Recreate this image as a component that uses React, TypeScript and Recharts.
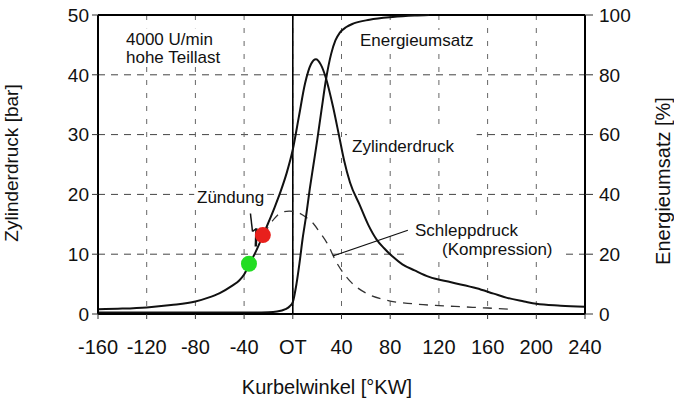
import React from 'react';
import {
  LineChart,
  Line,
  XAxis,
  YAxis,
  CartesianGrid,
  ReferenceLine,
  ReferenceDot,
  ReferenceArea,
} from 'recharts';

// ---- data ----
const xTicks = [-160, -120, -80, -40, 0, 40, 80, 120, 160, 200, 240];
const yTicksLeft = [0, 10, 20, 30, 40, 50];
const yTicksRight = [0, 20, 40, 60, 80, 100];

const druckWinkel = [-160, -140, -120, -100, -80, -70, -60, -50, -44, -40, -36, -30, -25, -20, -15, -10, -5, 0, 5, 10, 15, 19, 23, 27, 33, 38, 42, 47, 55, 62, 69, 75, 82, 90, 100, 112, 130, 151, 165, 176, 190, 200, 220, 240];
const druckBar = [0.8, 0.9, 1.1, 1.5, 2.1, 2.7, 3.5, 4.7, 5.6, 6.6, 8.2, 10.6, 12.9, 15.3, 17.8, 20.5, 23.6, 27.5, 33, 38.5, 41.8, 42.6, 41.7, 39.6, 34.7, 29.8, 25.8, 22, 18.2, 14.9, 12.4, 11, 9.6, 8.3, 7.3, 6.2, 5.3, 4.3, 3.4, 2.7, 2.1, 1.7, 1.4, 1.2];

const schleppWinkel = [-24, -20, -15, -10, -3, 5, 12, 17, 22, 28, 36, 47, 60, 77, 99, 120, 140, 160, 178];
const schleppBar = [13.2, 14.6, 16.0, 16.9, 17.2, 16.9, 16.0, 15.1, 13.7, 11.9, 8.6, 5.5, 3.5, 2.3, 1.7, 1.4, 1.2, 1.0, 0.8];

const energieWinkel = [-160, -40, -20, -13, -6, -2.5, 0, 3, 5.5, 8, 11, 14, 17, 20, 23.5, 27.5, 31.5, 35, 38.5, 44, 50, 63, 82, 100, 112];
const energieProzent = [0.5, 0.5, 0.6, 0.8, 1.6, 2.6, 4, 10, 17, 25, 33, 42, 50, 58, 68, 79, 87, 91.5, 94, 96, 97.2, 98.4, 99.3, 99.8, 100];

const zuendPunkt = { w: -36, p: 8.4 };
const brennBeginn = { w: -24.6, p: 13.2 };

const druckData = druckWinkel.map((w, i) => ({ w, p: druckBar[i] }));
const schleppData = schleppWinkel.map((w, i) => ({ w, p: schleppBar[i] }));
const energieData = energieWinkel.map((w, i) => ({ w, e: energieProzent[i] }));

const FONT = '"Liberation Sans", Arial, Helvetica, sans-serif';

export default function App() {
  return (
    <div style={{ position: 'absolute', left: 0, top: 0, width: 674, height: 400, background: '#fff' }}>
      <LineChart
        width={674}
        height={400}
        margin={{ top: 15, right: 29, left: 38, bottom: 26 }}
        style={{ fontFamily: FONT }}
      >
        <CartesianGrid
          yAxisId="left"
          vertical={false}
          stroke="#444"
          strokeDasharray="7 6"
          strokeWidth={1}
        />
        <CartesianGrid
          yAxisId="left"
          horizontal={false}
          stroke="#666"
          strokeDasharray="5 8"
          strokeWidth={1}
        />
        <XAxis
          dataKey="w"
          type="number"
          domain={[-160, 240]}
          ticks={xTicks}
          interval={0}
          allowDuplicatedCategory={false}
          tickFormatter={(v: number) => (v === 0 ? 'OT' : String(v))}
          height={60}
          tickSize={5}
          tickMargin={21}
          tick={{ fontSize: 20, fill: '#111', fontFamily: FONT }}
          axisLine={{ stroke: '#000', strokeWidth: 2 }}
          tickLine={{ stroke: '#333' }}
        />
        <YAxis
          yAxisId="left"
          type="number"
          domain={[0, 50]}
          ticks={yTicksLeft}
          interval={0}
          width={60}
          tickSize={6}
          tickMargin={3}
          tick={{ fontSize: 19, fill: '#111', fontFamily: FONT }}
          axisLine={{ stroke: '#000', strokeWidth: 2 }}
          tickLine={{ stroke: '#333' }}
        />
        <YAxis
          yAxisId="right"
          orientation="right"
          type="number"
          domain={[0, 100]}
          ticks={yTicksRight}
          interval={0}
          width={60}
          tickSize={8}
          tickMargin={6}
          tick={{ fontSize: 19, fill: '#111', fontFamily: FONT, textAnchor: 'start' }}
          axisLine={{ stroke: '#000', strokeWidth: 2 }}
          tickLine={{ stroke: '#333' }}
        />

        {/* white label backgrounds covering the grid */}
        <ReferenceArea yAxisId="left" x1={-142} x2={-58} y1={41.5} y2={47.8} fill="#fff" fillOpacity={1} stroke="none" />
        <ReferenceArea yAxisId="left" x1={51} x2={156} y1={43.5} y2={47.5} fill="#fff" fillOpacity={1} stroke="none" />
        <ReferenceArea yAxisId="left" x1={44.5} x2={151} y1={26.3} y2={31.1} fill="#fff" fillOpacity={1} stroke="none" />
        <ReferenceArea yAxisId="left" x1={-81} x2={-21} y1={18.1} y2={21.1} fill="#fff" fillOpacity={1} stroke="none" />
        <ReferenceArea yAxisId="left" x1={96} x2={221} y1={8.8} y2={15.7} fill="#fff" fillOpacity={1} stroke="none" />

        <ReferenceLine yAxisId="left" y={50} stroke="#000" strokeWidth={2} />
        <ReferenceLine yAxisId="left" x={0} stroke="#000" strokeWidth={1.6} />

        <Line
          data={schleppData}
          yAxisId="left"
          dataKey="p"
          type="monotone"
          stroke="#333"
          strokeWidth={1.3}
          strokeDasharray="9 7"
          dot={false}
          isAnimationActive={false}
        />
        <Line
          data={druckData}
          yAxisId="left"
          dataKey="p"
          type="monotone"
          stroke="#111"
          strokeWidth={2}
          dot={false}
          isAnimationActive={false}
        />
        <Line
          data={energieData}
          yAxisId="right"
          dataKey="e"
          type="monotone"
          stroke="#111"
          strokeWidth={2}
          dot={false}
          isAnimationActive={false}
        />

        {/* Zündung lightning arrow */}
        <ReferenceLine yAxisId="left" segment={[{ x: -34.8, y: 16.8 }, { x: -33.1, y: 13.8 }]} stroke="#111" strokeWidth={1.5} />
        <ReferenceLine yAxisId="left" segment={[{ x: -33.1, y: 13.8 }, { x: -29.8, y: 14.3 }]} stroke="#111" strokeWidth={1.5} />
        <ReferenceLine yAxisId="left" segment={[{ x: -29.8, y: 14.3 }, { x: -30.4, y: 11.3 }]} stroke="#111" strokeWidth={2.5} />
        {/* Schleppdruck leader line */}
        <ReferenceLine yAxisId="left" segment={[{ x: 32.9, y: 9.7 }, { x: 94.5, y: 14.0 }]} stroke="#111" strokeWidth={1.2} />

        <ReferenceDot yAxisId="left" x={zuendPunkt.w} y={zuendPunkt.p} r={8} fill="#22dd22" stroke="none" />
        <ReferenceDot yAxisId="left" x={brennBeginn.w} y={brennBeginn.p} r={8} fill="#e8201c" stroke="none" />
      </LineChart>

      <svg
        width={674}
        height={400}
        style={{ position: 'absolute', left: 0, top: 0, pointerEvents: 'none' }}
        fontFamily={FONT}
      >
        <g fill="#111" fontSize={17}>
          <text x={126} y={45}>4000 U/min</text>
          <text x={126} y={63}>hohe Teillast</text>
          <text x={360} y={46}>Energieumsatz</text>
          <text x={352} y={152}>Zylinderdruck</text>
          <text x={197} y={203}>Zündung</text>
          <text x={415} y={236}>Schleppdruck</text>
          <text x={442} y={255}>(Kompression)</text>
        </g>
        <text x={11} y={163} fontSize={19} fill="#111" textAnchor="middle" dominantBaseline="central" transform="rotate(-90 11 163)">
          Zylinderdruck [bar]
        </text>
        <text x={663} y={181} fontSize={20} fill="#111" textAnchor="middle" dominantBaseline="central" transform="rotate(-90 663 181)">
          Energieumsatz [%]
        </text>
        <text x={327} y={394} fontSize={20} fill="#111" textAnchor="middle">
          Kurbelwinkel [°KW]
        </text>
      </svg>
    </div>
  );
}
